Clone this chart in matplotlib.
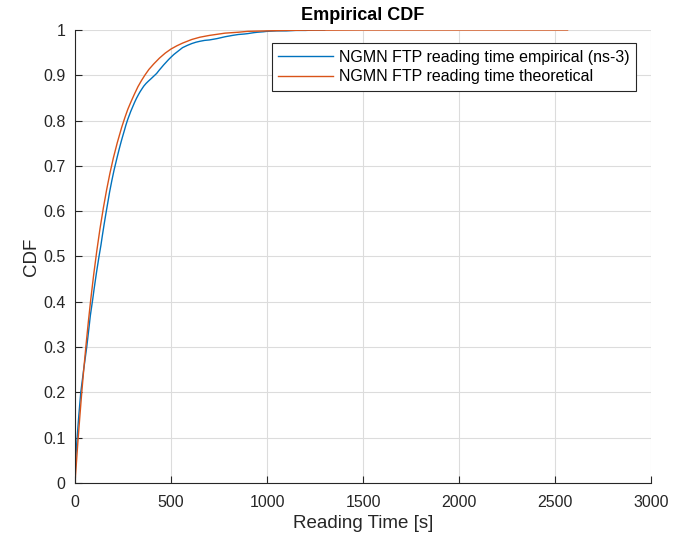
import matplotlib
matplotlib.use('Agg')
import matplotlib.pyplot as plt

# empirical CDF (ns-3)
emp_x = [0, 3, 11, 20, 30, 45, 61, 72, 80, 92, 100, 112, 125, 135, 142, 152, 161, 172, 180,
         192, 203, 212, 220, 230, 240, 248, 257, 265, 275, 283, 290, 300, 310, 320, 330, 338,
         347, 358, 370, 382, 395, 410, 425, 438, 450, 462, 475, 488, 500, 515, 530, 545, 560,
         585, 608, 630, 650, 675, 700, 740, 781, 820, 850, 880, 900, 930, 950, 980, 1000,
         1050, 1100, 1150, 1200, 1250, 1300]
emp_y = [0, 0.05, 0.1, 0.15, 0.2, 0.25, 0.3, 0.34, 0.37, 0.405, 0.43, 0.465, 0.5, 0.525, 0.545,
         0.572, 0.595, 0.622, 0.642, 0.668, 0.69, 0.706, 0.72, 0.737, 0.753, 0.765, 0.778,
         0.79, 0.803, 0.812, 0.82, 0.83, 0.84, 0.849, 0.857, 0.863, 0.869, 0.876, 0.882,
         0.887, 0.892, 0.898, 0.904, 0.911, 0.917, 0.923, 0.929, 0.935, 0.94, 0.946, 0.951,
         0.956, 0.961, 0.966, 0.97, 0.973, 0.975, 0.977, 0.978, 0.981, 0.985, 0.988, 0.99,
         0.991, 0.992, 0.994, 0.995, 0.996, 0.997, 0.998, 0.998, 0.999, 0.999, 1.0, 1.0]

# theoretical CDF
theo_x = [0, 8, 15, 25, 35, 45, 57, 70, 82, 97, 113, 130, 148, 165, 182, 200, 220, 243, 260,
          275, 292, 310, 328, 347, 365, 385, 410, 440, 470, 500, 530, 560, 608, 650, 700, 781,
          850, 900, 1000, 1100, 1200, 1500, 2000, 2565]
theo_y = [0, 0.049, 0.091, 0.146, 0.199, 0.248, 0.303, 0.358, 0.405, 0.459, 0.511, 0.561,
          0.608, 0.648, 0.684, 0.718, 0.751, 0.785, 0.807, 0.825, 0.842, 0.859, 0.875, 0.889,
          0.901, 0.913, 0.925, 0.938, 0.949, 0.958, 0.965, 0.971, 0.979, 0.984, 0.988, 0.993,
          0.995, 0.997, 0.998, 0.999, 0.9995, 1.0, 1.0, 1.0]

x_ticks = [0, 500, 1000, 1500, 2000, 2500, 3000]
y_ticks = [0, 0.1, 0.2, 0.3, 0.4, 0.5, 0.6, 0.7, 0.8, 0.9, 1]
y_tick_labels = ['0', '0.1', '0.2', '0.3', '0.4', '0.5', '0.6', '0.7', '0.8', '0.9', '1']

plt.rcParams['font.family'] = ['Liberation Sans', 'DejaVu Sans']

fig = plt.figure(figsize=(6.85, 5.43), dpi=100)
ax = fig.add_axes([0.1095, 0.1105, 0.8410, 0.8343])

ax.plot(emp_x, emp_y, color='#0072BD', lw=1.0, label='NGMN FTP reading time empirical (ns-3)')
ax.plot(theo_x, theo_y, color='#D95319', lw=1.0, label='NGMN FTP reading time theoretical')

ax.set_xlim(0, 3000)
ax.set_ylim(0, 1)
ax.set_xticks(x_ticks)
ax.set_yticks(y_ticks)
ax.set_yticklabels(y_tick_labels)
ax.tick_params(direction='in', length=5, labelsize=11.5, colors='#262626', width=0.8)
ax.tick_params(axis='x', pad=9)
ax.tick_params(axis='y', pad=7)
for s in ['top', 'right']:
    ax.spines[s].set_visible(False)
for s in ['left', 'bottom']:
    ax.spines[s].set_color('#262626')
    ax.spines[s].set_linewidth(0.8)
ax.grid(True, color='#dcdcdc', lw=0.8)
ax.set_axisbelow(True)

ax.set_xlabel('Reading Time [s]', fontsize=13.5, color='#262626', labelpad=3)
ax.set_ylabel('CDF', fontsize=13.5, color='#262626', labelpad=2)
ax.set_title('Empirical CDF', fontsize=13, fontweight='bold', pad=7)

leg = ax.legend(loc='upper right', bbox_to_anchor=(0.974, 0.971), fontsize=11.5,
                fancybox=False, framealpha=1, edgecolor='#262626', borderaxespad=0,
                handlelength=3.4, labelspacing=0.3, borderpad=0.4, handletextpad=0.4)
leg.get_frame().set_linewidth(0.8)

fig.savefig('out.png', dpi=100)
